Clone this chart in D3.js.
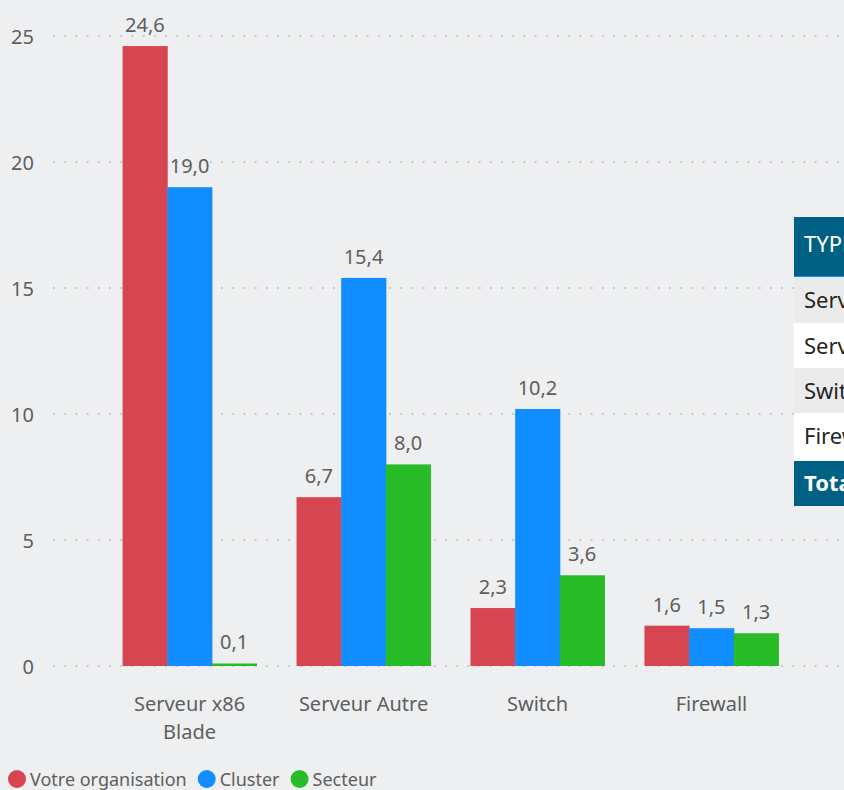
<!DOCTYPE html>
<html>
<head>
<meta charset="utf-8">
<script src="https://cdn.jsdelivr.net/npm/d3@7"></script>
<style>
  html, body { margin: 0; padding: 0; background: #eeeff1; overflow: hidden; }
  svg { display: block; font-family: "Noto Sans", "Segoe UI", sans-serif; }
</style>
</head>
<body>
<svg id="chart" width="844" height="790"></svg>
<script>
// ---- data ----
const categories = ["Serveur x86 Blade", "Serveur Autre", "Switch", "Firewall"];
const seriesNames = ["Votre organisation", "Cluster", "Secteur"];
const votreOrganisation = [24.6, 6.7, 2.3, 1.6];
const cluster = [19.0, 15.4, 10.2, 1.5];
const secteur = [0.1, 8.0, 3.6, 1.3];
const yTicks = [0, 5, 10, 15, 20, 25];
const tableHeader = "TYPE ÉQUIPEMENT";
const tableRows = ["Serveur x86 Blade", "Serveur Autre", "Switch", "Firewall"];
const tableTotal = "Total";

const seriesValues = [votreOrganisation, cluster, secteur];
const colors = ["#d64550", "#118dff", "#28bc28"];

const svg = d3.select("#chart");
const W = 844, H = 790;
svg.append("rect").attr("width", W).attr("height", H).attr("fill", "#eeeff1");

const y = d3.scaleLinear().domain([0, 25]).range([666, 36]);
const x0 = d3.scaleBand().domain(categories).range([53, 848]).paddingInner(0.23).paddingOuter(0.4);
const x1 = d3.scaleBand().domain(seriesNames).range([0, x0.bandwidth()]);

const fmt = v => d3.format(".1f")(v).replace(".", ",");

// gridlines
const grid = svg.append("g");
grid.selectAll("line").data(yTicks).join("line")
  .attr("x1", 53).attr("x2", W)
  .attr("y1", d => y(d)).attr("y2", d => y(d))
  .attr("stroke", "#c8c8c8").attr("stroke-width", 2)
  .attr("stroke-dasharray", "2,9.2");

// y axis
const yAxis = svg.append("g").attr("transform", "translate(34,0)")
  .call(d3.axisLeft(y).tickValues(yTicks).tickSize(0).tickPadding(0).tickFormat(d3.format("d")));
yAxis.select(".domain").remove();
yAxis.selectAll("text").attr("fill", "#605e5c").attr("font-size", 20)
  .attr("font-family", "Noto Sans, Segoe UI, sans-serif").attr("dy", "0.36em");

// bars
const groups = svg.append("g").selectAll("g").data(categories).join("g")
  .attr("transform", d => `translate(${x0(d)},0)`);
const barData = (c, ci) => seriesNames.map((s, si) => ({ s, si, v: seriesValues[si][ci] }));
groups.selectAll("rect").data((c, ci) => barData(c, ci)).join("rect")
  .attr("x", d => x1(d.s)).attr("width", x1.bandwidth() + 0.5)
  .attr("y", d => y(d.v)).attr("height", d => y(0) - y(d.v))
  .attr("fill", d => colors[d.si]);
groups.selectAll("text").data((c, ci) => barData(c, ci)).join("text")
  .attr("x", d => x1(d.s) + x1.bandwidth() / 2)
  .attr("y", d => y(d.v) - 14)
  .attr("text-anchor", "middle").attr("font-size", 20).attr("fill", "#605e5c")
  .text(d => fmt(d.v));

// x axis
const xAxis = svg.append("g").attr("transform", "translate(0,666)")
  .call(d3.axisBottom(x0).tickSize(0).tickPadding(0));
xAxis.select(".domain").remove();
xAxis.selectAll("text").attr("fill", "#605e5c").attr("font-size", 20)
  .attr("font-family", "Noto Sans, Segoe UI, sans-serif")
  .attr("y", 45).attr("dy", 0)
  .each(function (d) {
    const t = d3.select(this);
    const words = d.split(" ");
    t.text(null);
    let line = [];
    let tspan = t.append("tspan").attr("x", 0).attr("y", 45);
    let lineNo = 0;
    const maxW = x0.bandwidth() + 16;
    words.forEach(w => {
      line.push(w);
      tspan.text(line.join(" "));
      if (tspan.node().getComputedTextLength() > maxW && line.length > 1) {
        line.pop();
        tspan.text(line.join(" "));
        line = [w];
        lineNo++;
        tspan = t.append("tspan").attr("x", 0).attr("y", 45 + lineNo * 28).text(w);
      }
    });
  });

// legend
const legend = svg.append("g");
let lx = 8;
seriesNames.forEach((s, i) => {
  legend.append("circle").attr("cx", lx + 9).attr("cy", 779).attr("r", 9).attr("fill", colors[i]);
  const t = legend.append("text").attr("x", lx + 22).attr("y", 786)
    .attr("font-size", 18).attr("fill", "#605e5c").text(s);
  lx = lx + 22 + t.node().getComputedTextLength() + 11;
});

// table (partially visible on right)
const table = svg.append("g");
const tx = 794, tw = 300;
table.append("rect").attr("x", tx).attr("y", 217).attr("width", tw).attr("height", 59).attr("fill", "#006184");
table.append("rect").attr("x", tx).attr("y", 276).attr("width", tw).attr("height", 1.5).attr("fill", "#118dff");
table.append("text").attr("x", 804).attr("y", 244).attr("dy", "0.35em").attr("font-size", 22)
  .attr("fill", "#ffffff").text(tableHeader);
const rowTops = [277, 323, 368, 413];
tableRows.forEach((r, i) => {
  table.append("rect").attr("x", tx).attr("y", rowTops[i]).attr("width", tw).attr("height", (i < 3 ? rowTops[i + 1] : 459) - rowTops[i])
    .attr("fill", i % 2 === 0 ? "#ebebeb" : "#ffffff");
  table.append("text").attr("x", 804).attr("y", rowTops[i] + 23).attr("dy", "0.35em").attr("font-size", 22)
    .attr("fill", "#252423").text(r);
});
table.append("rect").attr("x", tx).attr("y", 459).attr("width", tw).attr("height", 2).attr("fill", "#ffffff");
table.append("rect").attr("x", tx).attr("y", 461).attr("width", tw).attr("height", 45).attr("fill", "#006184");
table.append("text").attr("x", 804).attr("y", 483.5).attr("dy", "0.35em").attr("font-size", 22)
  .attr("font-weight", "bold").attr("fill", "#ffffff").text(tableTotal);
</script>
</body>
</html>
